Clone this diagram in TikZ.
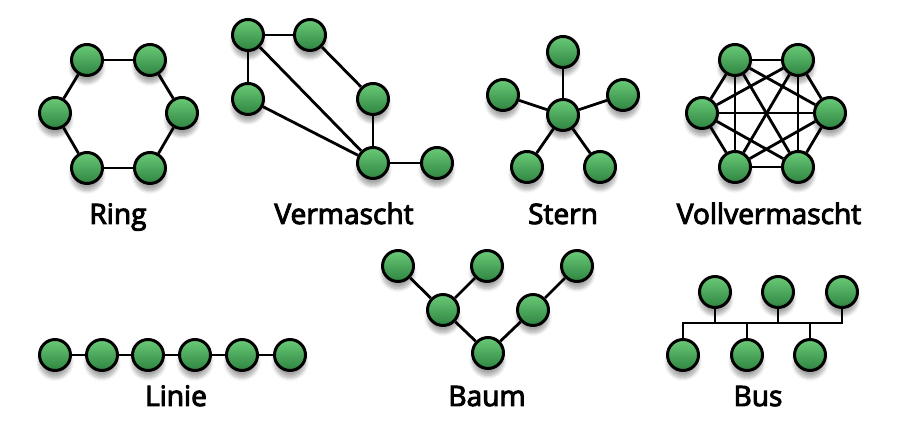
\documentclass[tikz,border=0pt]{standalone}
\usepackage{fontspec}
\setmainfont{Open Sans}
\newfontfamily\labelfont{Open Sans}[FakeBold=3.5]
\usepackage{tikz}
\usetikzlibrary{shadows.blur}

\begin{document}
\begin{tikzpicture}[
    x=0.02cm, y=-0.02cm,
    netnode/.style={circle, draw=black, line width=1.7pt, minimum size=0.62cm, inner sep=0pt,
      top color=nodelight, bottom color=nodedark,
      blur shadow={shadow xshift=0pt, shadow yshift=-4pt, shadow blur steps=8, shadow opacity=35}},
    netlink/.style={line width=1.6pt, draw=black},
    netlabel/.style={font=\labelfont\fontsize{16}{19}\selectfont, anchor=base}
  ]
    \definecolor{nodelight}{HTML}{6ACB78}
    \definecolor{nodedark}{HTML}{2E8440}
    \useasboundingbox (0,0) rectangle (898,448);

    % Ring
    \node[netnode] (r1) at (87,60) {};
    \node[netnode] (r2) at (150,60) {};
    \node[netnode] (r3) at (182,113) {};
    \node[netnode] (r4) at (150,168) {};
    \node[netnode] (r5) at (87,168) {};
    \node[netnode] (r6) at (55,113) {};
    \foreach \a/\b in {r1/r2, r2/r3, r3/r4, r4/r5, r5/r6, r6/r1}
      \draw[netlink] (\a) -- (\b);
    \node[netlabel] (ringlabel) at (118,224) {Ring};

    % Vermascht
    \node[netnode] (v1) at (248,35) {};
    \node[netnode] (v2) at (310,35) {};
    \node[netnode] (v3) at (248,99) {};
    \node[netnode] (v4) at (373,99) {};
    \node[netnode] (v5) at (373,163) {};
    \node[netnode] (v6) at (437,163) {};
    \foreach \a/\b in {v1/v2, v1/v3, v1/v5, v3/v5, v2/v4, v4/v5, v5/v6}
      \draw[netlink] (\a) -- (\b);
    \node[netlabel] (meshlabel) at (344,224) {Vermascht};

    % Stern
    \node[netnode] (s0) at (563,115) {};
    \node[netnode] (s1) at (563,52) {};
    \node[netnode] (s2) at (503,95) {};
    \node[netnode] (s3) at (623,95) {};
    \node[netnode] (s4) at (527,167) {};
    \node[netnode] (s5) at (600,167) {};
    \foreach \b in {s1,s2,s3,s4,s5}
      \draw[netlink] (s0) -- (\b);
    \node[netlabel] (starlabel) at (563,224) {Stern};

    % Vollvermascht
    \node[netnode] (f1) at (735,60) {};
    \node[netnode] (f2) at (798,60) {};
    \node[netnode] (f3) at (830,113) {};
    \node[netnode] (f4) at (798,167) {};
    \node[netnode] (f5) at (735,167) {};
    \node[netnode] (f6) at (702,113) {};
    \foreach \a in {1,...,5}{
      \pgfmathtruncatemacro\nextidx{\a+1}
      \foreach \b in {\nextidx,...,6}
        \draw[netlink] (f\a) -- (f\b);
    }
    \node[netlabel] (fulllabel) at (769,224) {Vollvermascht};

    % Linie
    \foreach \i/\x in {1/55, 2/102, 3/148, 4/195, 5/242, 6/290}
      \node[netnode] (l\i) at (\x,355) {};
    \foreach \a/\b in {l1/l2, l2/l3, l3/l4, l4/l5, l5/l6}
      \draw[netlink] (\a) -- (\b);
    \node[netlabel] (linelabel) at (176,406) {Linie};

    % Baum
    \node[netnode] (t1) at (398,266) {};
    \node[netnode] (t2) at (487,266) {};
    \node[netnode] (t3) at (577,266) {};
    \node[netnode] (t4) at (443,310) {};
    \node[netnode] (t5) at (533,310) {};
    \node[netnode] (t6) at (488,353) {};
    \foreach \a/\b in {t1/t4, t2/t4, t4/t6, t6/t5, t5/t3}
      \draw[netlink] (\a) -- (\b);
    \node[netlabel] (treelabel) at (487,406) {Baum};

    % Bus
    \node[netnode] (b1) at (715,292) {};
    \node[netnode] (b2) at (778,292) {};
    \node[netnode] (b3) at (842,292) {};
    \node[netnode] (b4) at (683,355) {};
    \node[netnode] (b5) at (747,355) {};
    \node[netnode] (b6) at (810,355) {};
    \coordinate (busleft) at (683,323);
    \coordinate (busright) at (842,323);
    \draw[netlink] (b4) -- (busleft) -- (busright) -- (b3);
    \foreach \n in {b1,b2,b5,b6}
      \draw[netlink] (\n) -- (\n |- busleft);
    \node[netlabel] (buslabel) at (758,406) {Bus};
  \end{tikzpicture}
\end{document}
